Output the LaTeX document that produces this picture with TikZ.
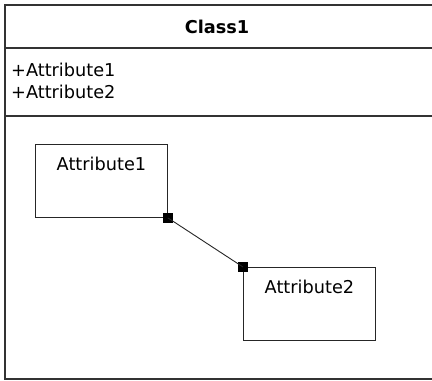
\documentclass[tikz,border=0pt]{standalone}
\usepackage{fontspec}
\setmainfont{DejaVu Sans}
\usetikzlibrary{positioning}

\begin{document}
\begin{tikzpicture}[x=1pt, y=-1pt,
                    every node/.style={font=\fontsize{17.7}{21}\selectfont, inner sep=0pt},
                    frame/.style={draw=black!80, line width=1.8pt},
                    attrbox/.style={draw=black!85, line width=0.9pt, minimum width=132pt, minimum height=73pt},
                    handle/.style={fill=black, minimum size=10pt}]
  \useasboundingbox (0,0) rectangle (432,381);
  \clip (0,0) rectangle (432,381);
  \draw[frame] (5,5) rectangle (445,379);
  \draw[frame] (5,48) -- (445,48);
  \draw[frame] (5,116) -- (445,116);
  \node[font=\bfseries\fontsize{17.7}{21}\selectfont] (classname) at (217,27) {Class1};
  \node[anchor=west] (attrline1) at (11,70) {+Attribute1};
  \node[anchor=west] (attrline2) at (11,92) {+Attribute2};
  \node[attrbox, anchor=north west] (box1) at (35,144) {};
  \node[attrbox, anchor=north west] (box2) at (243,267) {};
  \node[below=13pt of box1.north] (name1) {Attribute1};
  \node[below=13pt of box2.north] (name2) {Attribute2};
  \node[handle] (grip1) at (box1.south east) {};
  \node[handle] (grip2) at (box2.north west) {};
  \draw[black!85, line width=0.9pt] (grip1.center) -- (grip2.center);
\end{tikzpicture}
\end{document}
